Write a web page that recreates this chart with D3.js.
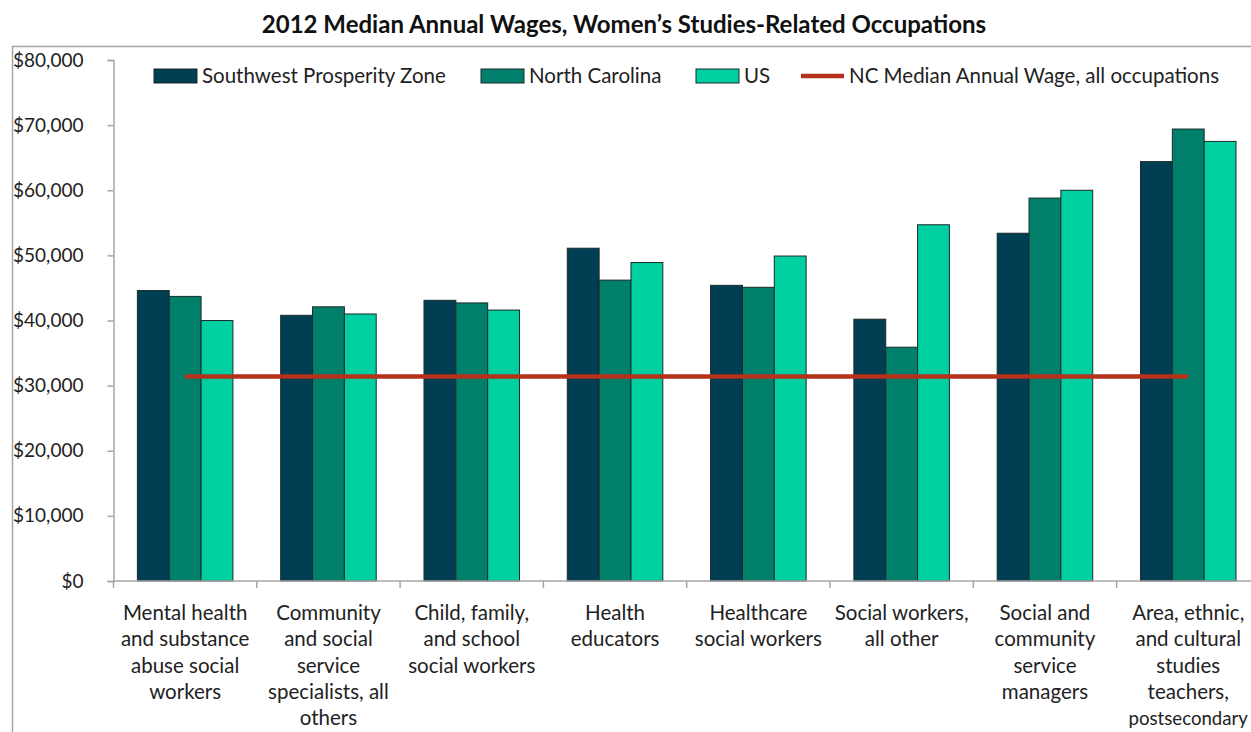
<!DOCTYPE html>
<html>
<head>
<meta charset="utf-8">
<script src="https://cdn.jsdelivr.net/npm/d3@7"></script>
<style>
  html, body { margin: 0; padding: 0; background: #fff; }
  svg { display: block; }
  text { font-family: Lato, "Open Sans", sans-serif; fill: #222; }
</style>
</head>
<body>
<svg id="chart" width="1251" height="732"></svg>
<script>
// Occupation categories (line breaks mark how each axis label wraps)
const categories = [
  "Mental health\nand substance\nabuse social\nworkers",
  "Community\nand social\nservice\nspecialists, all\nothers",
  "Child, family,\nand school\nsocial workers",
  "Health\neducators",
  "Healthcare\nsocial workers",
  "Social workers,\nall other",
  "Social and\ncommunity\nservice\nmanagers",
  "Area, ethnic,\nand cultural\nstudies\nteachers,\npostsecondary"
];

const seriesNames = ["Southwest Prosperity Zone", "North Carolina", "US"];
const seriesColors = ["#003f53", "#00806a", "#00cfa1"];

// Median annual wages by region, in dollars
const southwest = [44600, 40800, 43100, 51100, 45400, 40200, 53400, 64400];
const northCarolina = [43700, 42100, 42700, 46200, 45100, 35900, 58800, 69400];
const us = [40000, 41000, 41600, 48900, 49900, 54700, 60000, 67500];

// Statewide reference wage across all occupations
const ncAllOccupations = 31400;
const refLineName = "NC Median Annual Wage, all occupations";
const refLineColor = "#b5311a";

const yTicks = [0, 10000, 20000, 30000, 40000, 50000, 60000, 70000, 80000];

const width = 1251;
const svg = d3.select("#chart");

// Outer chart frame
svg.append("rect")
  .attr("x", 12.5).attr("y", 46.5)
  .attr("width", 1400).attr("height", 900)
  .attr("fill", "none").attr("stroke", "#a6a6a6").attr("stroke-width", 1.5);

// Title
svg.append("text")
  .attr("x", 624).attr("y", 33)
  .attr("text-anchor", "middle")
  .style("font-size", "24px").style("font-weight", "bold").style("fill", "#111")
  .text("2012 Median Annual Wages, Women\u2019s Studies-Related Occupations");

const plotLeft = 113.5, plotRight = 113.5 + 8 * 143.3, plotTop = 60, plotBottom = 581;

const x0 = d3.scaleBand().domain(d3.range(categories.length))
  .range([plotLeft, plotRight]).paddingInner(0).paddingOuter(0);
const x1 = d3.scaleBand().domain(d3.range(seriesNames.length))
  .range([0, x0.bandwidth()]).paddingInner(0).paddingOuter(0.75);
const y = d3.scaleLinear().domain([0, 80000]).range([plotBottom, plotTop]);

const seriesValues = [southwest, northCarolina, us];

// Bars
seriesValues.forEach((vals, si) => {
  svg.append("g").selectAll("rect")
    .data(vals)
    .join("rect")
    .attr("x", (d, i) => x0(i) + x1(si))
    .attr("y", d => y(d))
    .attr("width", x1.bandwidth())
    .attr("height", d => y(0) - y(d))
    .attr("fill", seriesColors[si])
    .attr("stroke", "#1b2a2a")
    .attr("stroke-width", 1);
});

// Y axis
const yAxis = d3.axisLeft(y).tickValues(yTicks)
  .tickFormat(d => "$" + d3.format(",")(d)).tickSize(6).tickPadding(24);
const gy = svg.append("g").attr("transform", `translate(${plotLeft},0)`).call(yAxis);
gy.select(".domain").attr("stroke", "#a6a6a6").attr("stroke-width", 1.5);
gy.selectAll(".tick line").attr("stroke", "#a6a6a6").attr("stroke-width", 1.5);
gy.selectAll(".tick text").style("font-size", "19px").style("font-family", "Lato, sans-serif").attr("fill", "#222");

// X axis with ticks between categories
const xAxisLine = svg.append("g");
xAxisLine.append("line")
  .attr("x1", plotLeft).attr("x2", plotRight + 20)
  .attr("y1", plotBottom).attr("y2", plotBottom)
  .attr("stroke", "#a6a6a6").attr("stroke-width", 1.5);
xAxisLine.selectAll("line.tick")
  .data(d3.range(categories.length + 1))
  .join("line")
  .attr("class", "tick")
  .attr("x1", i => i < categories.length ? x0(i) : x0(i - 1) + x0.bandwidth())
  .attr("x2", i => i < categories.length ? x0(i) : x0(i - 1) + x0.bandwidth())
  .attr("y1", plotBottom).attr("y2", plotBottom + 7)
  .attr("stroke", "#a6a6a6").attr("stroke-width", 1.5);

// Category labels; lines that would run past the page edge are shrunk to fit
const labels = svg.append("g").selectAll("text")
  .data(categories)
  .join("text")
  .attr("text-anchor", "middle")
  .style("font-size", "20.5px");
labels.each(function(d, i) {
  const t = d3.select(this);
  const cx = x0(i) + x0.bandwidth() / 2;
  d.split("\n").forEach((line, li) => {
    const ts = t.append("tspan")
      .attr("x", cx)
      .attr("y", 620 + li * 26.3)
      .text(line);
    const w = ts.node().getComputedTextLength();
    const room = 2 * (width - 3 - cx);
    if (w > room) {
      ts.style("font-size", (20.5 * room / w).toFixed(2) + "px");
    }
  });
});

// Reference line spanning first to last category centre
svg.append("line")
  .attr("x1", x0(0) + x0.bandwidth() / 2)
  .attr("x2", x0(categories.length - 1) + x0.bandwidth() / 2)
  .attr("y1", y(ncAllOccupations)).attr("y2", y(ncAllOccupations))
  .attr("stroke", refLineColor).attr("stroke-width", 4.5);

// Legend
const legendItems = [
  { name: seriesNames[0], color: seriesColors[0], x: 154, type: "box" },
  { name: seriesNames[1], color: seriesColors[1], x: 481, type: "box" },
  { name: seriesNames[2], color: seriesColors[2], x: 696, type: "box" },
  { name: refLineName, color: refLineColor, x: 801, type: "line" }
];
const lg = svg.append("g");
legendItems.forEach(it => {
  if (it.type === "box") {
    lg.append("rect").attr("x", it.x).attr("y", 69).attr("width", 43).attr("height", 14)
      .attr("fill", it.color).attr("stroke", "#1b2a2a").attr("stroke-width", 1);
  } else {
    lg.append("line").attr("x1", it.x).attr("x2", it.x + 43).attr("y1", 76).attr("y2", 76)
      .attr("stroke", it.color).attr("stroke-width", 4.5);
  }
  lg.append("text").attr("x", it.x + 48).attr("y", 83)
    .style("font-size", "20.5px").text(it.name);
});
</script>
</body>
</html>
